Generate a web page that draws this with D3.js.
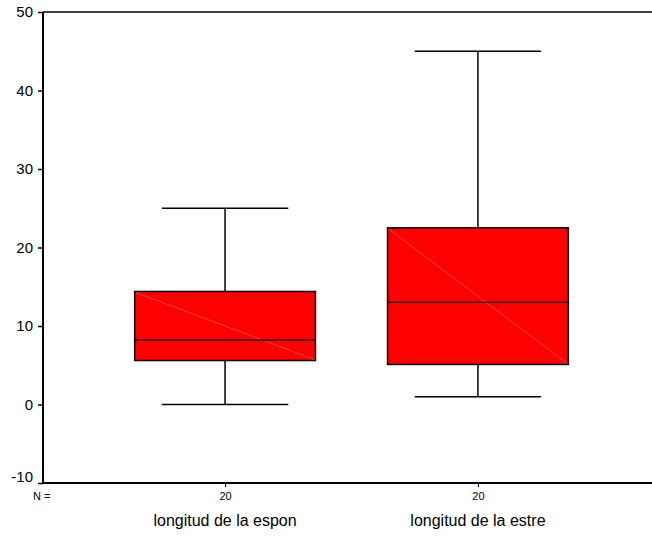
<!DOCTYPE html>
<html><head><meta charset="utf-8">
<script src="https://cdn.jsdelivr.net/npm/d3@7"></script>
<style>body{margin:0;background:#fff}svg{display:block}</style>
</head><body>
<svg id="c" width="652" height="536"></svg>
<script>
const categories = ["longitud de la espon", "longitud de la estre"];
const nValues = [20, 20];
const mins = [0, 1];
const q1s = [5.6, 5.1];
const medians = [8.2, 13];
const q3s = [14.4, 22.5];
const maxs = [25, 45];
const yTicks = [-10, 0, 10, 20, 30, 40, 50];

const svg = d3.select("#c");
const padL = 43, padR = 652, padT = 12, padB = 483;
const y = d3.scaleLinear().domain([-10, 50]).range([padB, padT]);
const x = d3.scalePoint().domain(categories).range([padL, 660]).padding(0.72);
const step = x.step();
const boxW = step * 0.715, capW = step * 0.5;
const font = "Liberation Sans, Arial, sans-serif";

// y axis
const yAxis = svg.append("g").attr("transform", `translate(${padL},0)`)
  .call(d3.axisLeft(y).tickValues(yTicks).tickSize(5).tickFormat(d => String(d)));
yAxis.select(".domain").remove();
yAxis.selectAll("line").attr("stroke", "#000").attr("stroke-width", 1.5);
yAxis.selectAll("text").attr("font-family", font).attr("font-size", 15).attr("fill", "#000").attr("x", -10)
  .attr("dy", d => d === -10 ? "-0.1em" : "0.32em");

// frame lines
svg.append("line").attr("x1", padL).attr("x2", padL).attr("y1", padT).attr("y2", padB)
  .attr("stroke", "#000").attr("stroke-width", 2);
svg.append("line").attr("x1", padL).attr("x2", padR).attr("y1", padT).attr("y2", padT)
  .attr("stroke", "#000").attr("stroke-width", 1.5);
svg.append("line").attr("x1", padL).attr("x2", padR).attr("y1", padB).attr("y2", padB)
  .attr("stroke", "#000").attr("stroke-width", 2);

// x axis ticks
const xAxis = svg.append("g").attr("transform", `translate(0,${padB})`)
  .call(d3.axisBottom(x).tickSize(4).tickFormat((d, i) => nValues[i]));
xAxis.select(".domain").remove();
xAxis.selectAll("line").attr("stroke", "#000").attr("stroke-width", 1.2);
xAxis.selectAll("text").attr("font-family", font).attr("font-size", 11).attr("fill", "#000")
  .attr("y", 9).attr("dy", "0.71em");

svg.append("text").attr("x", 33).attr("y", 500).attr("font-family", font).attr("font-size", 11).text("N =");

svg.selectAll(".cat").data(categories).join("text")
  .attr("x", d => x(d)).attr("y", 526).attr("text-anchor", "middle")
  .attr("font-family", font).attr("font-size", 16).text(d => d);

// boxes
categories.forEach((c, i) => {
  const cx = x(c);
  const g = svg.append("g");
  g.append("line").attr("x1", cx).attr("x2", cx).attr("y1", y(q3s[i])).attr("y2", y(maxs[i])).attr("stroke", "#000").attr("stroke-width", 1.5);
  g.append("line").attr("x1", cx).attr("x2", cx).attr("y1", y(q1s[i])).attr("y2", y(mins[i])).attr("stroke", "#000").attr("stroke-width", 1.5);
  g.append("line").attr("x1", cx - capW / 2).attr("x2", cx + capW / 2).attr("y1", y(maxs[i])).attr("y2", y(maxs[i])).attr("stroke", "#000").attr("stroke-width", 1.5);
  g.append("line").attr("x1", cx - capW / 2).attr("x2", cx + capW / 2).attr("y1", y(mins[i])).attr("y2", y(mins[i])).attr("stroke", "#000").attr("stroke-width", 1.5);
  g.append("rect").attr("x", cx - boxW / 2).attr("width", boxW)
    .attr("y", y(q3s[i])).attr("height", y(q1s[i]) - y(q3s[i]))
    .attr("fill", "#ff0000").attr("stroke", "#000").attr("stroke-width", 1.5);
  g.append("line").attr("x1", cx - boxW / 2 + 1).attr("x2", cx + boxW / 2 - 1)
    .attr("y1", y(q3s[i]) + 1).attr("y2", y(q1s[i]) - 1)
    .attr("stroke", "#ff7070").attr("stroke-width", 0.6);
  g.append("line").attr("x1", cx - boxW / 2).attr("x2", cx + boxW / 2)
    .attr("y1", y(medians[i])).attr("y2", y(medians[i])).attr("stroke", "#000").attr("stroke-width", 1.3);
});
</script>
</body></html>
